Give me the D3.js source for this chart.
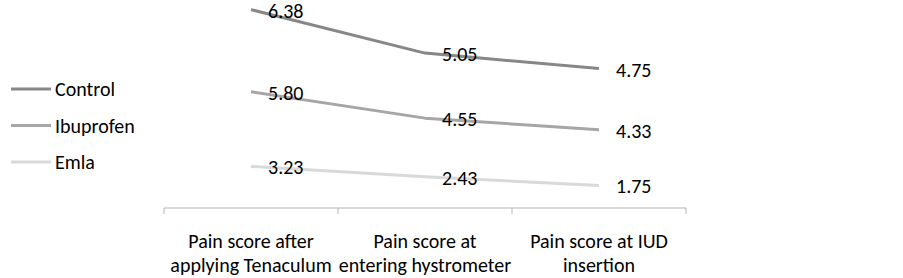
<!DOCTYPE html>
<html>
<head>
<meta charset="utf-8">
<script src="https://cdn.jsdelivr.net/npm/d3@7"></script>
<style>
  html, body { margin: 0; padding: 0; background: #fff; }
  svg { display: block; }
  text { font-family: Carlito, Calibri, Lato, sans-serif; fill: #000; }
</style>
</head>
<body>
<svg id="chart" width="903" height="278"></svg>
<script>
// Data
const categories = [
  ["Pain score after", "applying Tenaculum"],
  ["Pain score at", "entering hystrometer"],
  ["Pain score at IUD", "insertion"]
];
const seriesNames = ["Control", "Ibuprofen", "Emla"];
const controlValues = [6.38, 5.05, 4.75];
const ibuprofenValues = [5.80, 4.55, 4.33];
const emlaValues = [3.23, 2.43, 1.75];
const seriesColors = ["#878787", "#a6a6a6", "#d9d9d9"];

const svg = d3.select("#chart");

const catIdx = categories.map((c, i) => i);
const x = d3.scaleBand().domain(catIdx).range([164, 686]).paddingInner(0).paddingOuter(0);
const y = d3.scaleLinear().domain([0, 16]).range([208, 2]);

// stacked (Emla bottom, Ibuprofen, Control top)
const rows = catIdx.map(i => ({ i, Emla: emlaValues[i], Ibuprofen: ibuprofenValues[i], Control: controlValues[i] }));
const stack = d3.stack().keys(["Emla", "Ibuprofen", "Control"]);
const stacked = stack(rows);

const colorOf = { Control: seriesColors[0], Ibuprofen: seriesColors[1], Emla: seriesColors[2] };

const line = d3.line()
  .x(d => x(d.data.i) + x.bandwidth() / 2)
  .y(d => y(d[1]));

// axis
const axisG = svg.append("g").attr("transform", `translate(0,${y(0)})`);
axisG.append("line")
  .attr("x1", x.range()[0]).attr("x2", x.range()[1])
  .attr("y1", 0).attr("y2", 0)
  .attr("stroke", "#b3b3b3").attr("stroke-width", 1);
const tickPos = catIdx.map(i => x(i)).concat([x.range()[1]]);
axisG.selectAll("line.tick").data(tickPos).join("line")
  .attr("class", "tick")
  .attr("x1", d => d).attr("x2", d => d)
  .attr("y1", 0).attr("y2", 6)
  .attr("stroke", "#b3b3b3").attr("stroke-width", 1);

// category labels
const catG = svg.append("g");
categories.forEach((lines, i) => {
  const t = catG.append("text")
    .attr("x", x(i) + x.bandwidth() / 2)
    .attr("text-anchor", "middle")
    .style("font-size", "20px");
  lines.forEach((ln, k) => {
    t.append("tspan")
      .attr("x", x(i) + x.bandwidth() / 2)
      .attr("y", 248 + k * 24)
      .text(ln);
  });
});

// lines
stacked.forEach(s => {
  svg.append("path")
    .datum(s)
    .attr("fill", "none")
    .attr("stroke", colorOf[s.key])
    .attr("stroke-width", 3)
    .attr("stroke-linejoin", "round")
    .attr("d", line);
});

// data labels
stacked.forEach(s => {
  svg.append("g").selectAll("text").data(s).join("text")
    .attr("x", d => x(d.data.i) + x.bandwidth() / 2 + 17)
    .attr("y", d => y(d[1]) + 1)
    .attr("dominant-baseline", "central")
    .style("font-size", "20px")
    .text(d => d.data[s.key].toFixed(2));
});

// legend
const legendY = [89, 125.5, 162];
const leg = svg.append("g");
seriesNames.forEach((name, k) => {
  leg.append("line")
    .attr("x1", 11).attr("x2", 51)
    .attr("y1", legendY[k]).attr("y2", legendY[k])
    .attr("stroke", seriesColors[k]).attr("stroke-width", 3);
  leg.append("text")
    .attr("x", 55).attr("y", legendY[k])
    .attr("dominant-baseline", "central")
    .style("font-size", "20px")
    .text(name);
});
</script>
</body>
</html>
